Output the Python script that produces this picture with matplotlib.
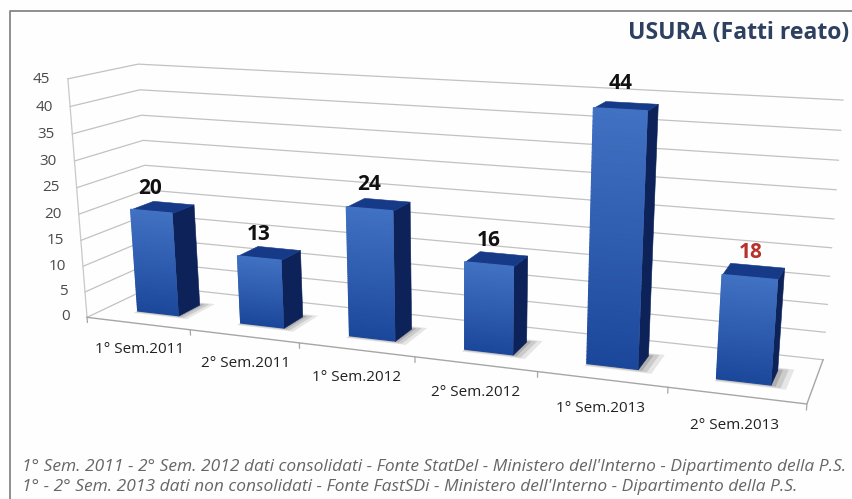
#!/usr/bin/env python3
import matplotlib
matplotlib.use("Agg")
import matplotlib.pyplot as plt
from matplotlib.colors import to_rgb
from mpl_toolkits.mplot3d import proj3d
from mpl_toolkits.mplot3d.art3d import Poly3DCollection
import numpy as np

categories = ["1° Sem.2011", "2° Sem.2011", "1° Sem.2012", "2° Sem.2012", "1° Sem.2013", "2° Sem.2013"]
values = [20, 13, 24, 16, 44, 18]
label_colors = ["#111111", "#111111", "#111111", "#111111", "#111111", "#b8322c"]
y_ticks = [0, 5, 10, 15, 20, 25, 30, 35, 40, 45]

# camera calibration: chart box corners (x, depth, value) -> picture pixel
cam_world = [(0, 0, 45), (0, 1, 45), (0, 0, 0), (6, 0, 0), (6, 1, 0), (6, 1, 45), (0, 1, 0), (1, 0, 0), (3, 0, 0), (5, 0, 0)]
cam_pixel = [(68, 79), (138, 64), (87, 317), (807, 403), (823, 360), (843, 100), (153, 286), (190, 330), (415, 357), (668, 388)]

W, H = 853, 499
plt.rcParams['font.family'] = ['Open Sans', 'DejaVu Sans']

fig = plt.figure(figsize=(W/100, H/100), dpi=100, facecolor="#fefefe")

# slide frame, only top and left edges show
fig.add_artist(plt.Line2D([10/W, 10/W, 1], [0, 1-11/H, 1-11/H], color="#868686", lw=1.3))

ax = fig.add_axes([0, 0.5-W/H/2, 1, W/H], projection="3d", computed_zorder=False)
ax.set_axis_off()
ax.patch.set_alpha(0)
ax.set_xticks([])
ax.set_yticks([])
ax.set_zticks([])


def fit_camera():
    rows = []
    rhs = []
    for (x, y, z), (u, v) in zip(cam_world, cam_pixel):
        v = H - v
        rows.append([x, y, z, 1, 0, 0, 0, 0, -u*x, -u*y, -u*z])
        rhs.append(u)
        rows.append([0, 0, 0, 0, x, y, z, 1, -v*x, -v*y, -v*z])
        rhs.append(v)
    p = np.linalg.lstsq(np.array(rows, float), np.array(rhs, float), rcond=None)[0]
    return np.append(p, 1.0).reshape(3, 4)


P = fit_camera()


def get_proj():
    ax.apply_aspect()
    A = ax.transData.inverted().get_matrix()
    Q = A @ P
    # third row is only depth, keep it negative or Line3D drops the points
    return np.array([Q[0], Q[1], [0, -1, 0, -1], Q[2]])


ax.get_proj = get_proj


def label(x, y, z, s, **kw):
    # project once and place a plain 2d text
    px, py, _ = proj3d.proj_transform(x, y, z, get_proj())
    ax.text2D(px, py, s, transform=ax.transData, clip_on=False, zorder=30, **kw)


n = len(values)
top_val = y_ticks[-1]
grid = "#c2c2c2"

for t in y_ticks:
    ax.plot([0, 0, n], [0, 1, 1], [t, t, t], color=grid, lw=0.9, zorder=1, clip_on=False)
    label(-0.17, 0, t - 0.3, str(t), ha="right", va="center", fontsize=11, color="#4a4a4a")
ax.plot([0, 0], [0, 0], [0, top_val], color="#c8c8c8", lw=0.9, zorder=1, clip_on=False)
ax.plot([0, n, n], [0, 0, 1], [0, 0, 0], color="#a6a6a6", lw=1.0, zorder=1, clip_on=False)
for i in range(n + 1):
    ax.plot([i, i], [0, 0], [0, -1], color="#a6a6a6", lw=0.9, zorder=1, clip_on=False)

w = 0.40
dp = 0.34
front_y = 0.30
slices = 60
col_hi = np.array(to_rgb("#4171c2"))
col_lo = np.array(to_rgb("#1b479b"))

for i, (v, c, lc) in enumerate(zip(values, categories, label_colors)):
    x0 = i + 0.5 - w/2
    x1 = x0 + w
    y0 = front_y
    y1 = y0 + dp
    # soft floor shadow
    for grow, a in [(0.12, 0.14), (0.08, 0.18), (0.04, 0.24)]:
        sh = Poly3DCollection([[(x0, y0-grow*0.5, 0), (x1+grow, y0-grow*0.5, 0), (x1+grow, y1+grow*0.5, 0), (x0, y1+grow*0.5, 0)]],
                              facecolors="#555555", edgecolors="none", alpha=a, zorder=2)
        ax.add_collection3d(sh)
    # front face in thin slices for the gradient
    verts = []
    cols = []
    for k in range(slices):
        z0 = v*k/slices
        z1 = v*(k+1)/slices
        verts.append([(x0, y0, z0), (x1, y0, z0), (x1, y0, z1), (x0, y0, z1)])
        cols.append(col_lo + (col_hi-col_lo)*(k+0.5)/slices)
    front = Poly3DCollection(verts, facecolors=cols, edgecolors=cols, linewidths=0.8, zorder=5+i)
    ax.add_collection3d(front)
    side = Poly3DCollection([[(x1, y0, 0), (x1, y1, 0), (x1, y1, v), (x1, y0, v)]],
                            facecolors="#0d2258", edgecolors="#0d2258", linewidths=0.4, zorder=4+i)
    ax.add_collection3d(side)
    top = Poly3DCollection([[(x0, y0, v), (x1, y0, v), (x1, y1, v), (x0, y1, v)]],
                           facecolors="#173a88", edgecolors="#173a88", linewidths=0.4, zorder=4+i)
    ax.add_collection3d(top)
    label(i + 0.5, 0.3, v + 2.4, str(v), ha="center", va="bottom", fontsize=15, fontweight="bold", color=lc)
    label(i + 0.5, 0, -5.2, c, ha="center", va="center", fontsize=11, color="#222222")

ax.set_xlim(0, n)
ax.set_ylim(0, 1)
ax.set_zlim(0, top_val)

fig.text(849/W, 1-33/H, "USURA (Fatti reato)", ha="right", va="center", fontsize=16.6, fontweight="bold", color="#2e4060")
fig.text(22/W, 1-467/H, "1° Sem. 2011 - 2° Sem. 2012 dati consolidati - Fonte StatDel - Ministero dell'Interno - Dipartimento della P.S.",
         ha="left", va="center", fontsize=12.5, style="italic", color="#666666")
fig.text(22/W, 1-487/H, "1° - 2° Sem. 2013 dati non consolidati - Fonte FastSDi - Ministero dell'Interno - Dipartimento della P.S.",
         ha="left", va="center", fontsize=12.5, style="italic", color="#666666")

fig.savefig("out.png", dpi=100, facecolor=fig.get_facecolor())
